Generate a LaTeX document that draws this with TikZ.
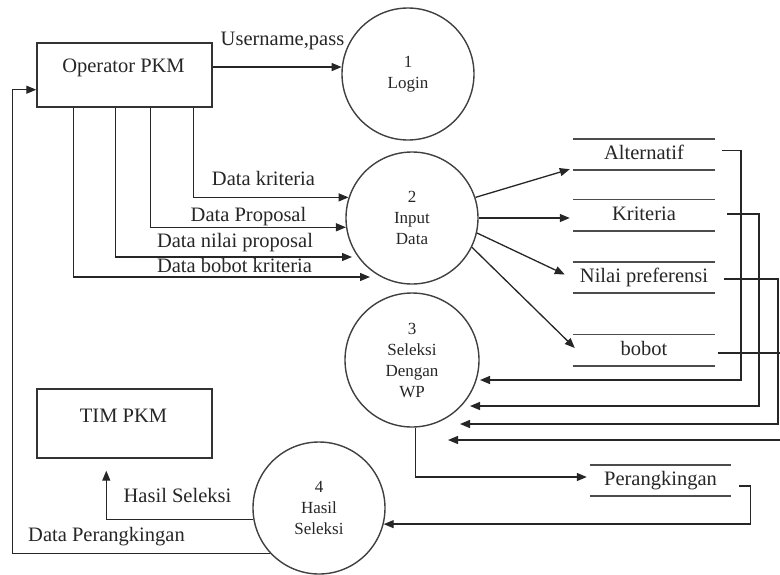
\documentclass[tikz,border=0pt]{standalone}
\usepackage{fontspec}
\setmainfont{Liberation Serif}
\usetikzlibrary{arrows.meta,calc}
\begin{document}
\begin{tikzpicture}[x=1pt,y=-1pt,
  every node/.style={inner sep=0pt, text=black!85},
  lbl/.style={font=\fontsize{20.5}{24}\selectfont, text height=14pt, text depth=4pt},
  ent/.style={draw=black!80, line width=1.4pt, minimum width=175pt, minimum height=64pt},
  proc/.style={circle, draw=black!75, line width=1.4pt, minimum size=132pt, align=center, font=\fontsize{17}{21}\selectfont},
  store/.style={minimum width=142pt, minimum height=31pt, font=\fontsize{20.5}{24}\selectfont, text height=14pt, text depth=4pt},
  stline/.style={draw=black!70, line width=1.6pt},
  flow/.style={draw=black!85, line width=1.3pt, -{Triangle[length=10pt,width=8pt]}}
]
\useasboundingbox (0,0) rectangle (780,574);

% external entities
\node[ent] (op) at (124.5,75) {};
\node[lbl] (optx) at (123.5,67) {Operator PKM};
\node[ent, minimum height=69pt] (tim) at (124.5,423.5) {};
\node[lbl] (timtx) at (123.5,417) {TIM PKM};

% processes
\node[proc] (c1) at (408,74) {1\\Login};
\node[proc] (c2) at (412,218) {2\\Input\\Data};
\node[proc, minimum size=134pt] (c3) at (412,360) {3\\Seleksi\\Dengan\\WP};
\node[proc] (c4) at (319,508) {4\\Hasil\\Seleksi};

% data stores
\node[store] (s1) at (644,154.5) {Alternatif};
\node[store] (s2) at (644,215) {Kriteria};
\node[store] (s3) at (644,277.5) {Nilai preferensi};
\node[store] (s4) at (644,350) {bobot};
\node[store, minimum width=141pt] (s5) at (660.5,480.5) {Perangkingan};
\foreach \s in {s1,s2,s3,s4,s5}{
  \draw[stline] (\s.north west) -- (\s.north east) (\s.south west) -- (\s.south east);
}

% login
\draw[flow] (op.east |- c1.174) -- (c1.174);
\node[lbl] (lu) at (282.5,40) {Username,pass};

% inputs to process 2
\draw[flow] ($(op.south east)+(-19,0)$) |- (c2.162);
\draw[flow] ($(op.south east)+(-62,0)$) |- (c2.188);
\coordinate (t3) at ($(c2.center)+(-60,39)$);
\draw[flow] ($(op.south west)+(79,0)$) |- (t3);
\coordinate (t4) at ($(c2.center)+(-42,59)$);
\draw[flow] ($(op.south west)+(37,0)$) |- (t4);
\node[lbl] (lk) at (263.5,180) {Data kriteria};
\node[lbl] (lp) at (248.5,216) {Data Proposal};
\node[lbl] (ln) at (235,242) {Data nilai proposal};
\node[lbl] (lb) at (234.5,267) {Data bobot kriteria};

% process 2 to stores
\draw[flow] (c2.18) -- ($(s1.south west)+(-3,-1)$);
\draw[flow] (c2.east) -- ($(c2.east -| s2.west)+(-3,0)$);
\draw[flow] (c2.-13) -- ($(s3.west)+(-8,-3)$);
\draw[flow] (c2.-26) -- ($(s4.west)+(2,-2)$);

% stores to process 3
\coordinate (r1) at ($(c3.center)+(68,20)$);
\draw[flow] ($(s1.east)+(7,-4)$) -| ($(r1)+(261,0)$) -- (r1);
\coordinate (r2) at ($(c3.center)+(58,46)$);
\draw[flow] ($(s2.east)+(12,-1)$) -| ($(r2)+(289,0)$) -- (r2);
\coordinate (r3) at ($(c3.center)+(48,64)$);
\draw[flow] ($(s3.east)+(9,1.5)$) -| ($(r3)+(318,0)$) -- (r3);
\coordinate (r4) at ($(c3.center)+(36,80)$);
\draw[flow] ($(s4.east)+(3,3)$) -| ($(r4)+(334,0)$) -- (r4);

% process 3 to Perangkingan
\draw[flow] (c3.-87) |- ($(s5.west)+(-3,-3.5)$);

% Perangkingan to process 4
\draw[flow] ($(s5.east)+(8,5.5)$) -| ($(c4.-14)+(367,0)$) -- (c4.-14);

% process 4 to TIM PKM
\draw[flow] (c4.190) -| ($(tim.south west)+(70,12)$);
\node[lbl] (lh) at (177.5,497) {Hasil Seleksi};

% process 4 back to Operator PKM
\draw[flow] (c4.223) -| ($(op.south west)+(-24,-18)$) -- ($(op.south west)+(0,-18)$);
\node[lbl] (ld) at (106.5,536) {Data Perangkingan};
\end{tikzpicture}
\end{document}
